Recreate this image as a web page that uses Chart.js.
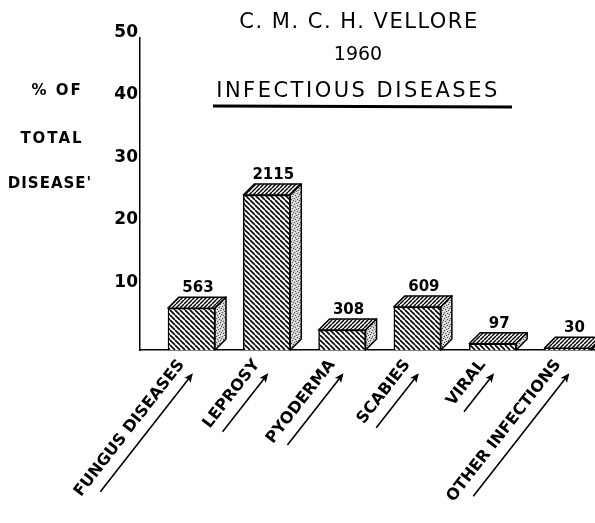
<!DOCTYPE html>
<html><head><meta charset="utf-8">
<script src="https://cdn.jsdelivr.net/npm/chart.js@4/dist/chart.umd.min.js"></script>
<style>html,body{margin:0;padding:0;background:#fff;}</style>
</head><body>
<canvas id="c" width="595" height="523" style="width:595px;height:523px;display:block"></canvas>
<script>
// ---- data ----
const categories = ['FUNGUS DISEASES', 'LEPROSY', 'PYODERMA', 'SCABIES', 'VIRAL', 'OTHER INFECTIONS'];
const percentOfTotal = [6.7, 24.8, 3.2, 6.9, 1.0, 0.3];
const caseCounts = [563, 2115, 308, 609, 97, 30];
const yTickValues = [10, 20, 30, 40, 50];
const titleLines = ['C. M. C. H. VELLORE', '1960', 'INFECTIOUS DISEASES'];
const yAxisTitle = ['% OF', 'TOTAL', "DISEASE'"];

// ---- styling ----
const FONT = '"DejaVu Sans", sans-serif';
const DX = 11, DY = 11;
const ROT = 52;
const X_LABEL_OFFSET = -10;
const X_LABEL_PAD = 6;
const X_FONT_SIZE = 16;

const canvas = document.getElementById('c');
const ctx0 = canvas.getContext('2d');
function tile(size, fn) {
  const c = document.createElement('canvas');
  c.width = c.height = size;
  const g = c.getContext('2d');
  fn(g, size);
  return ctx0.createPattern(c, 'repeat');
}
const frontPattern = tile(5, (g, s) => {
  g.fillStyle = '#fff'; g.fillRect(0, 0, s, s);
  g.strokeStyle = '#000'; g.lineWidth = 1.6;
  for (let k = -1; k <= 1; k++) { g.beginPath(); g.moveTo(k * s, 0); g.lineTo(k * s + s, s); g.stroke(); }
});
const topPattern = tile(4, (g, s) => {
  g.fillStyle = '#fff'; g.fillRect(0, 0, s, s);
  g.strokeStyle = '#000'; g.lineWidth = 1.4;
  for (let k = -1; k <= 1; k++) { g.beginPath(); g.moveTo(k * s, s); g.lineTo(k * s + s, 0); g.stroke(); }
});
const sidePattern = tile(6, (g, s) => {
  g.fillStyle = '#cfcfcf'; g.fillRect(0, 0, s, s);
  g.fillStyle = '#555';
  [[0,0],[3,1],[1,3],[4,4],[5,2],[2,5]].forEach(p => g.fillRect(p[0], p[1], 1, 1));
  g.fillStyle = '#fff';
  [[2,0],[5,5],[0,4],[3,3]].forEach(p => g.fillRect(p[0], p[1], 1, 1));
});

const bars3d = {
  id: 'bars3d',
  afterDatasetsDraw(chart) {
    const ctx = chart.ctx;
    const meta = chart.getDatasetMeta(0);
    ctx.save();
    ctx.lineWidth = 1.5; ctx.strokeStyle = '#000'; ctx.lineJoin = 'round';
    meta.data.forEach((el, i) => {
      const { x, y, base, width } = el.getProps(['x', 'y', 'base', 'width'], true);
      const l = x - width / 2, r = x + width / 2;
      ctx.beginPath();
      ctx.moveTo(l, y); ctx.lineTo(l + DX, y - DY); ctx.lineTo(r + DX, y - DY); ctx.lineTo(r, y); ctx.closePath();
      ctx.fillStyle = topPattern; ctx.fill(); ctx.stroke();
      ctx.beginPath();
      ctx.moveTo(r, y); ctx.lineTo(r + DX, y - DY); ctx.lineTo(r + DX, base - DY); ctx.lineTo(r, base); ctx.closePath();
      ctx.fillStyle = sidePattern; ctx.fill(); ctx.stroke();
      ctx.fillStyle = '#000';
      ctx.font = 'bold 15px ' + FONT;
      ctx.textAlign = 'center'; ctx.textBaseline = 'alphabetic';
      ctx.fillText(String(caseCounts[i]), x + DX / 2 + 1, y - DY - 5);
    });
    ctx.restore();
  }
};

const decorations = {
  id: 'decorations',
  afterDraw(chart) {
    const ctx = chart.ctx;
    ctx.save();
    ctx.fillStyle = '#000'; ctx.strokeStyle = '#000';
    ctx.textAlign = 'center'; ctx.textBaseline = 'alphabetic';
    ctx.font = '21px ' + FONT;
    ctx.letterSpacing = '1.5px';
    ctx.fillText(titleLines[0], 359, 28);
    ctx.font = '19px ' + FONT;
    ctx.letterSpacing = '0px';
    ctx.fillText(titleLines[1], 358, 60);
    ctx.font = '21px ' + FONT;
    ctx.letterSpacing = '2.5px';
    ctx.fillText(titleLines[2], 358, 97);
    ctx.lineWidth = 3;
    ctx.beginPath(); ctx.moveTo(213, 106); ctx.lineTo(512, 107); ctx.stroke();
    ctx.font = 'bold 15px ' + FONT;
    ctx.letterSpacing = '2px';
    ctx.fillText(yAxisTitle[0], 57, 95);
    ctx.fillText(yAxisTitle[1], 52, 143);
    ctx.letterSpacing = '1px';
    ctx.fillText(yAxisTitle[2], 50, 188);
    ctx.letterSpacing = '0px';
    const xs = chart.scales.x;
    const lh = X_FONT_SIZE * 1.2;
    const th = ROT * Math.PI / 180;
    ctx.font = 'bold ' + X_FONT_SIZE + 'px ' + FONT;
    ctx.lineWidth = 1.6;
    categories.forEach((name, i) => {
      const px = xs.getPixelForValue(i) + X_LABEL_OFFSET;
      const py = xs.top + X_LABEL_PAD + 0.5 * lh * Math.cos(th);
      const L = ctx.measureText(name).width * 0.88;
      ctx.save();
      ctx.translate(px, py);
      ctx.rotate(-th);
      const ay = 16, ax = -4;
      ctx.beginPath(); ctx.moveTo(ax - L, ay); ctx.lineTo(ax, ay); ctx.stroke();
      ctx.beginPath(); ctx.moveTo(ax + 2, ay); ctx.lineTo(ax - 7, ay - 4); ctx.lineTo(ax - 5, ay); ctx.lineTo(ax - 7, ay + 4); ctx.closePath(); ctx.fill();
      ctx.restore();
    });
    ctx.restore();
  }
};

new Chart(canvas, {
  type: 'bar',
  data: {
    datasets: [{
      data: categories.map((c, i) => ({ x: i, y: percentOfTotal[i] })),
      backgroundColor: frontPattern,
      borderColor: '#000',
      borderWidth: 1.5,
      barThickness: 47
    }]
  },
  options: {
    responsive: false,
    devicePixelRatio: 1,
    animation: false,
    events: [],
    layout: { padding: { top: 37.5, left: 0, right: 0, bottom: 0 } },
    plugins: { legend: { display: false }, tooltip: { enabled: false }, title: { display: false } },
    scales: {
      x: {
        type: 'linear',
        offset: false,
        min: -0.684, max: 5.359,
        afterBuildTicks: (s) => { s.ticks = categories.map((c, i) => ({ value: i })); },
        afterFit: (s) => { s.height = 173; },
        grid: { display: false, drawTicks: false },
        border: { display: true, color: '#000', width: 1.5 },
        ticks: {
          autoSkip: false, minRotation: ROT, maxRotation: ROT,
          labelOffset: X_LABEL_OFFSET, padding: X_LABEL_PAD,
          color: '#000', font: { family: FONT, size: X_FONT_SIZE, weight: 'bold' },
          callback: (v) => categories[v] ?? ''
        }
      },
      y: {
        min: 0, max: 50,
        afterBuildTicks: (s) => { s.ticks = [0].concat(yTickValues).map(v => ({ value: v })); },
        afterFit: (s) => { s.width = 140; },
        grid: { display: false, drawTicks: false },
        border: { display: true, color: '#000', width: 1.5 },
        ticks: {
          padding: 2, labelOffset: -5, color: '#000',
          font: { family: FONT, size: 17, weight: 'bold' },
          callback: (v) => v === 0 ? '' : String(v)
        }
      }
    }
  },
  plugins: [bars3d, decorations]
});
</script>
</body></html>
